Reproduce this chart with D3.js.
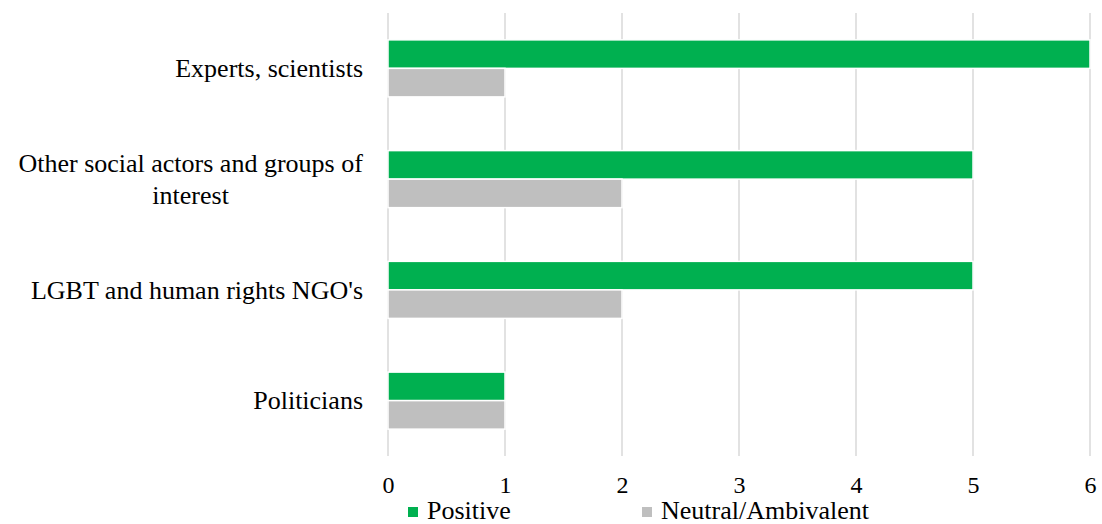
<!DOCTYPE html>
<html>
<head>
<meta charset="utf-8">
<script src="https://cdn.jsdelivr.net/npm/d3@7"></script>
<style>
  html, body { margin: 0; padding: 0; background: #fff; }
  text { font-family: "Liberation Serif", "Times New Roman", serif; fill: #000; }
</style>
</head>
<body>
<svg id="chart" width="1102" height="524"></svg>
<script>
// Actor categories (top to bottom) and counts per stance
const categories = ["Experts, scientists", "Other social actors and groups of interest", "LGBT and human rights NGO's", "Politicians"];
const categoryLines = [["Experts, scientists"], ["Other social actors and groups of", "interest"], ["LGBT and human rights NGO's"], ["Politicians"]];
const seriesNames = ["Positive", "Neutral/Ambivalent"];
const positive = [6, 5, 5, 1];
const neutral = [1, 2, 2, 1];
const tickValues = [0, 1, 2, 3, 4, 5, 6];
const colors = ["#00B050", "#BFBFBF"];

const svg = d3.select("#chart");
const margin = { left: 388, right: 12, top: 13, bottom: 68 };
const W = 1102, H = 524;
const labelSize = 26;
const tickSize = 24;

const x = d3.scaleLinear().domain([0, 6]).range([margin.left, W - margin.right]);
const y = d3.scaleBand().domain(categories).range([margin.top, H - margin.bottom]).paddingInner(0.485).paddingOuter(0.2425);
const ySub = d3.scaleBand().domain(seriesNames).range([0, y.bandwidth()]);

// Vertical gridlines
svg.append("g")
  .selectAll("line")
  .data(tickValues)
  .join("line")
  .attr("x1", d => x(d)).attr("x2", d => x(d))
  .attr("y1", margin.top).attr("y2", H - margin.bottom)
  .attr("stroke", "#D9D9D9").attr("stroke-width", 1.5);

// Bars
const rows = categories.map((c, i) => ({ cat: c, vals: [positive[i], neutral[i]] }));
const groups = svg.append("g").selectAll("g")
  .data(rows).join("g")
  .attr("transform", d => `translate(0,${y(d.cat)})`);

groups.selectAll("rect")
  .data(d => d.vals.map((v, j) => ({ name: seriesNames[j], v, j })))
  .join("rect")
  .attr("x", x(0))
  .attr("y", d => ySub(d.name))
  .attr("width", d => x(d.v) - x(0))
  .attr("height", ySub.bandwidth())
  .attr("fill", d => colors[d.j])
  .attr("stroke", "#fff").attr("stroke-width", 1.5);

// X axis tick labels
const xAxis = d3.axisBottom(x).tickValues(tickValues).tickSize(0).tickPadding(0).tickFormat(d3.format("d"));
const gx = svg.append("g").attr("transform", `translate(0,493)`).call(xAxis);
gx.select(".domain").remove();
gx.selectAll("text").attr("font-size", tickSize).attr("font-family", "Liberation Serif").attr("fill", "#000").attr("dy", 0);

// Category labels, centered lines, right-aligned block
const labelRight = 363;
svg.append("g").selectAll("g")
  .data(categories)
  .join("g")
  .each(function(c, i) {
    const lines = categoryLines[i];
    const g = d3.select(this);
    const lineH = 32;
    const cy = y(c) + y.bandwidth() / 2;
    const t = g.append("text").attr("font-size", labelSize).attr("text-anchor", "middle");
    lines.forEach((ln, k) => {
      t.append("tspan").attr("x", 0)
        .attr("y", cy + (k - (lines.length - 1) / 2) * lineH)
        .attr("dy", "0.34em").text(ln);
    });
    const bb = t.node().getBBox();
    t.attr("transform", `translate(${labelRight - bb.width / 2},0)`);
  });

// Legend
const legendX = [408, 642];
const lg = svg.append("g").selectAll("g").data(seriesNames).join("g")
  .attr("transform", (d, i) => `translate(${legendX[i]},519)`);
lg.append("rect").attr("x", 0).attr("y", -12).attr("width", 10).attr("height", 10).attr("fill", (d, i) => colors[i]);
lg.append("text").attr("x", 19).attr("y", 0).attr("font-size", labelSize).text(d => d);
</script>
</body>
</html>
